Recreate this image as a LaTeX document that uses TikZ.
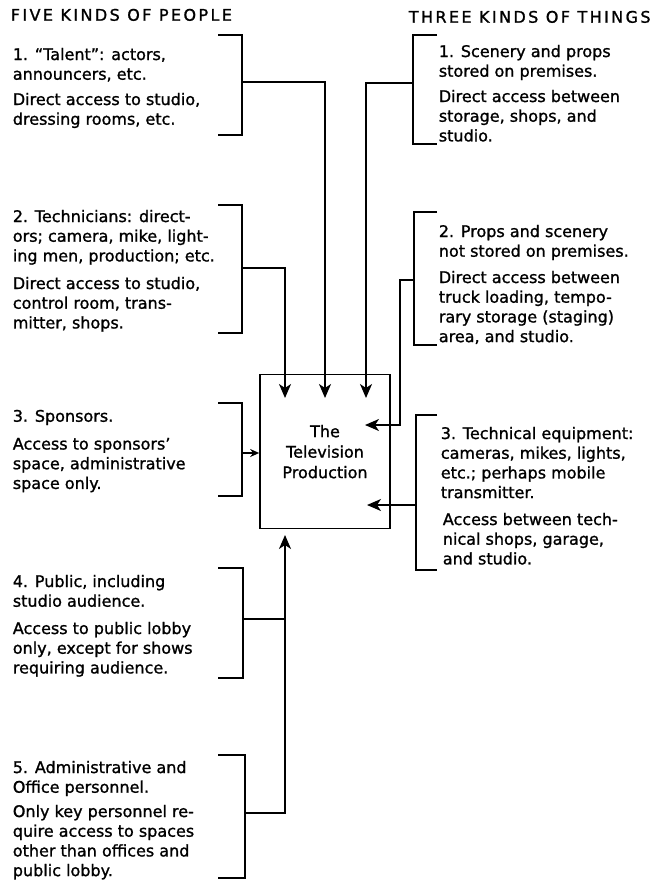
\documentclass[tikz,border=0pt]{standalone}
\usepackage{fontspec}
\setmainfont[FakeBold=1.2]{DejaVu Sans}
\newfontfamily\ttlfont[LetterSpace=15,FakeBold=1.2]{DejaVu Sans}
\usetikzlibrary{arrows.meta}
\begin{document}
\begin{tikzpicture}[x=1pt,y=-1pt, line width=1.7pt,
  arr/.style={-{Stealth[length=14pt,width=12pt,inset=4pt]}},
  brk/.style={line width=1.7pt},
  txt/.style={anchor=north west, inner sep=0pt, align=left, font=\fontsize{16}{19.7}\selectfont},
  ttl/.style={anchor=north west, inner sep=0pt, font=\ttlfont\fontsize{16}{18}\selectfont}]
\useasboundingbox (0,0) rectangle (655,880);
% titles
\node[ttl] (tl) at (10,8) {FIVE KINDS OF PEOPLE};
\node[ttl] (tr) at (408,10) {THREE KINDS OF THINGS};
% central box
\node[draw, line width=1.7pt, minimum width=130pt, minimum height=154pt, align=center,
  font=\fontsize{16}{20.5}\selectfont] (tv) at (325,451.5) {\rule{0pt}{4pt}\\[-12pt]The\\Television\\Production};
% left texts
\node[txt] (p1a) at (12,47) {1. “Talent”: actors,\\announcers, etc.};
\node[txt] (p1b) at (12,92) {Direct access to studio,\\dressing rooms, etc.};
\node[txt] (p2a) at (12,209) {2. Technicians: direct-\\ors; camera, mike, light-\\ing men, production; etc.};
\node[txt] (p2b) at (12,276) {Direct access to studio,\\control room, trans-\\mitter, shops.};
\node[txt] (p3a) at (12,409) {3. Sponsors.};
\node[txt] (p3b) at (12,437) {Access to sponsors’\\space, administrative\\space only.};
\node[txt] (p4a) at (12,574) {4. Public, including\\studio audience.};
\node[txt] (p4b) at (12,621) {Access to public lobby\\only, except for shows\\requiring audience.};
\node[txt] (p5a) at (12,760) {5. Administrative and\\Office personnel.};
\node[txt] (p5b) at (12,804) {Only key personnel re-\\quire access to spaces\\other than offices and\\public lobby.};
% right texts
\node[txt] (t1a) at (438,44) {1. Scenery and props\\stored on premises.};
\node[txt] (t1b) at (438,89) {Direct access between\\storage, shops, and\\studio.};
\node[txt] (t2a) at (438,224) {2. Props and scenery\\not stored on premises.};
\node[txt] (t2b) at (438,270) {Direct access between\\truck loading, tempo-\\rary storage (staging)\\area, and studio.};
\node[txt] (t3a) at (440,426) {3. Technical equipment:\\cameras, mikes, lights,\\etc.; perhaps mobile\\transmitter.};
\node[txt] (t3b) at (442,512) {Access between tech-\\nical shops, garage,\\and studio.};
% bracket coordinates
\coordinate (l1t) at (218,35); \coordinate (l1b) at (218,135); \coordinate (l1m) at (242,82);
\coordinate (l2t) at (218,205); \coordinate (l2b) at (218,333); \coordinate (l2m) at (242,268);
\coordinate (l3t) at (218,403); \coordinate (l3b) at (218,496); \coordinate (l3m) at (242,453);
\coordinate (l4t) at (218,568); \coordinate (l4b) at (218,678); \coordinate (l4m) at (243,619);
\coordinate (l5t) at (218,755); \coordinate (l5b) at (218,878); \coordinate (l5m) at (245,813);
\coordinate (r1t) at (437,35); \coordinate (r1b) at (437,144); \coordinate (r1m) at (413,83);
\coordinate (r2t) at (437,212); \coordinate (r2b) at (437,345); \coordinate (r2m) at (414,280);
\coordinate (r3t) at (437,415); \coordinate (r3b) at (437,570); \coordinate (r3m) at (416,505);
% arrow targets inside box
\coordinate (a1) at (325,398); \coordinate (a2) at (285,398); \coordinate (a3) at (366,398);
\coordinate (a4) at (285,535); \coordinate (ar2) at (365,425); \coordinate (ar3) at (367,505);
% left brackets
\draw[brk] (l1t) -| (l1m) |- (l1b);
\draw[brk] (l2t) -| (l2m) |- (l2b);
\draw[brk] (l3t) -| (l3m) |- (l3b);
\draw[brk] (l4t) -| (l4m) |- (l4b);
\draw[brk] (l5t) -| (l5m) |- (l5b);
% right brackets
\draw[brk] (r1t) -| (r1m) |- (r1b);
\draw[brk] (r2t) -| (r2m) |- (r2b);
\draw[brk] (r3t) -| (r3m) |- (r3b);
% connectors
\draw[arr] (l1m) -| (a1);
\draw[arr] (l2m) -| (a2);
\draw[-{Stealth[length=9pt,width=8pt,inset=3pt]}] (l3m) -- (tv.west |- l3m);
\draw (l4m) -- (l4m -| a4);
\draw[arr] (l5m) -| (a4);
\draw[arr] (r1m) -| (a3);
\draw[arr] (r2m) -- (400,280) |- (ar2);
\draw[arr] (r3m) -- (ar3);
\end{tikzpicture}
\end{document}
